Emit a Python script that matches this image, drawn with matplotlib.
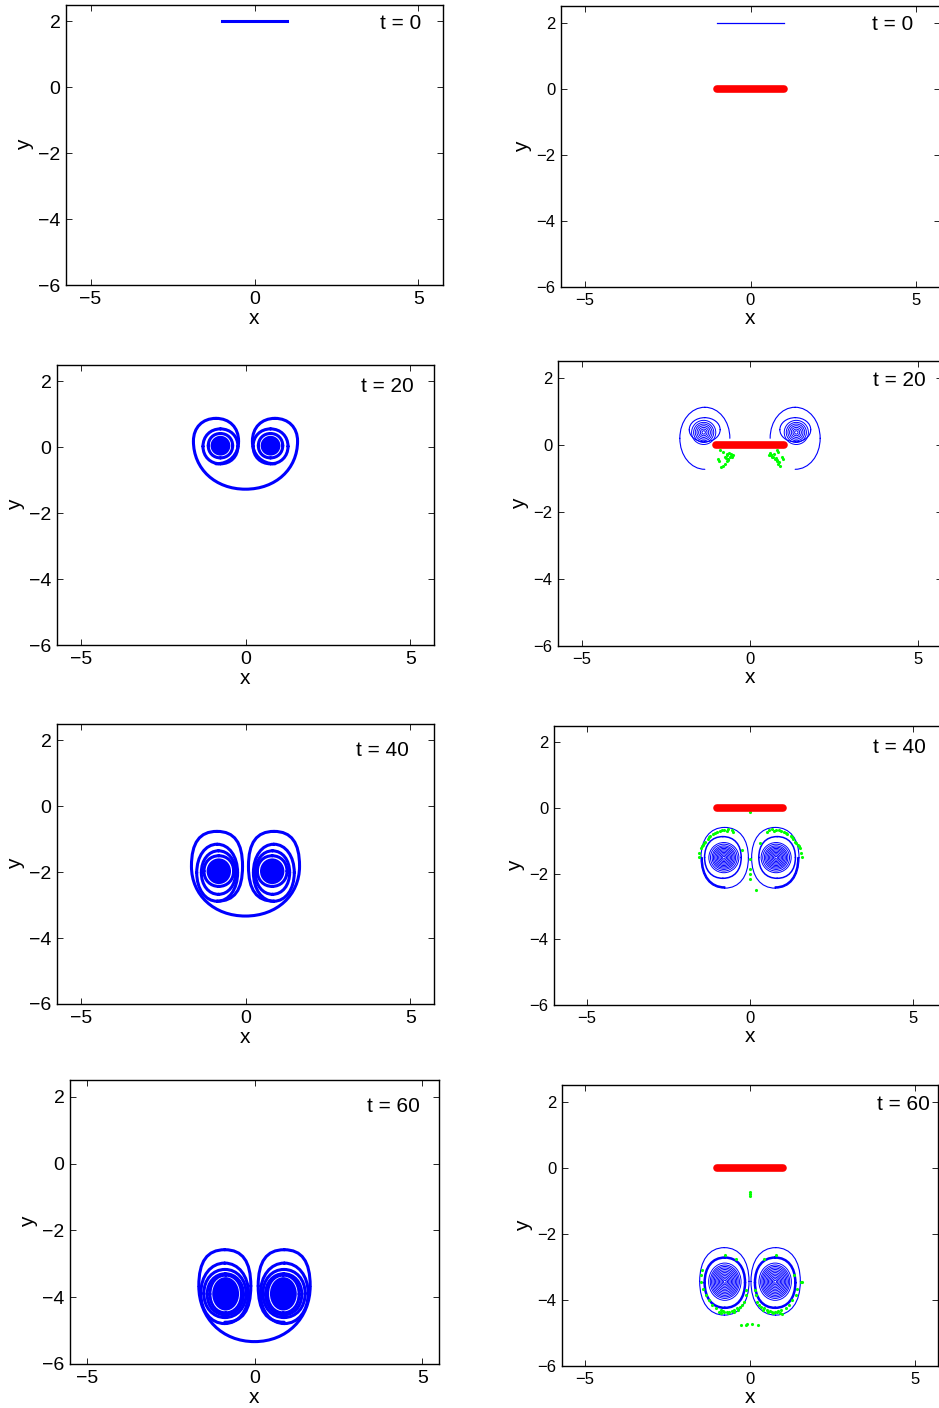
import numpy as np
import matplotlib.pyplot as plt
from matplotlib.patches import Ellipse, PathPatch
from matplotlib.path import Path

plt.rcParams['font.family'] = ['Liberation Sans', 'DejaVu Sans']

W, H = 939, 1408

# ---------------- data ----------------
times = [0, 20, 40, 60]
sheet0_x = [-1.0, 1.0]
sheet0_y = [2.0, 2.0]
plate_x = [-1.0, 1.0]
plate_y = [0.0, 0.0]

# Turns of the sheet round the LEFT vortex, as boxes (left, right, bottom, top);
# the right vortex is drawn as the mirror image.
# free sheet (left column)
free_lobe = {20: (-1.58, -0.21, -0.50, 0.88),
             40: (-1.64, -0.09, -2.88, -0.76),
             60: (-1.66, -0.11, -4.75, -2.58)}
free_env_bottom = {20: -1.27, 40: -3.33, 60: -5.33}
free_turns = {20: [(-1.29, -0.23, -0.50, 0.56),
                   (-1.13, -0.39, -0.32, 0.42)],
              40: [(-1.48, -0.24, -2.88, -1.15),
                   (-1.34, -0.30, -2.67, -1.35),
                   (-1.26, -0.36, -2.43, -1.50)],
              60: [(-1.60, -0.18, -4.79, -2.98),
                   (-1.51, -0.25, -4.61, -3.17),
                   (-1.41, -0.33, -4.53, -3.30),
                   (-1.33, -0.39, -4.47, -3.34)]}
free_core = {20: (-1.06, -0.46, -0.25, 0.35),
             40: (-1.18, -0.44, -2.36, -1.58),
             60: (-1.26, -0.46, -4.40, -3.40)}

# sheet shed from the plate (right column): (left, right, bottom, top, quarters, lw)
plate_turns = {20: [(-2.09, -0.60, -0.73, 1.12, 'EN NW WS', 0.8),
                    (-1.81, -0.89, 0.09, 0.81, 'EN NW WS SE', 0.8)],
               40: [(-1.50, -0.05, -2.44, -0.59, 'EN NW WS SE', 0.8),
                    (-1.47, -0.08, -2.41, -0.62, 'WS', 1.4),
                    (-1.39, -0.27, -2.14, -0.87, 'EN NW WS SE', 1.1)],
               60: [(-1.52, -0.03, -4.46, -2.42, 'EN NW WS SE', 0.8),
                    (-1.37, -0.15, -4.24, -2.72, 'EN NW WS SE', 1.8)]}
# tight rings round the cores (centre x, centre y, radii, height/width)
ring_cx = {20: -1.38, 40: -0.80, 60: -0.76}
ring_cy = {20: 0.37, 40: -1.51, 60: -3.45}
ring_r = {20: [0.05, 0.10, 0.15, 0.20, 0.25, 0.30, 0.36],
          40: [0.04, 0.08, 0.12, 0.16, 0.20, 0.24, 0.28, 0.32, 0.36, 0.41, 0.46],
          60: [0.04, 0.08, 0.12, 0.16, 0.20, 0.24, 0.28, 0.32, 0.36, 0.40, 0.44, 0.49]}
ring_aspect = {20: 1.0, 40: 1.0, 60: 1.15}

# green tracer points
green_x = {20: [-0.90, -0.80, -0.70, -0.63, -0.56, -0.50, -0.61, -0.65, -0.70, -0.75,
                -0.80, -0.85, -0.95, -0.92, -0.75, -0.68, -0.58, -0.53, -0.72, -0.66,
                0.59, 0.64, 0.69, 0.74, 0.79, 0.84, 0.89, 0.79, 0.84, 0.94,
                0.97, 0.57, 0.71, 0.62, 0.67, 0.76, 0.81, 0.86],
           40: [-1.57, -1.55, -1.51, -1.45, -1.37, -1.30, -1.22, -1.12, -1.02, -0.92,
                -0.79, -0.66, -0.56, -1.48, -1.40, -1.27, -1.07, -0.87, -0.71, -0.51,
                1.59, 1.57, 1.53, 1.47, 1.39, 1.32, 1.24, 1.14, 1.04, 0.94,
                0.81, 0.68, 0.58, 1.50, 1.42, 1.29, 1.09, 0.89, 0.73, 0.53,
                0.0, 0.0, 0.0, 0.0, 0.0, 0.18, -0.24, 0.30],
           60: [-0.94, -0.87, -0.79, -0.71, -0.63, -0.55, -0.47, -0.38, -0.30, -0.23,
                -0.18, -0.13, -0.12, -0.89, -0.81, -0.65, -0.49, -0.36, -1.04, -1.14,
                -1.24, -1.34, -1.41, -1.47, -1.49, -1.44, -0.77, -0.43,
                0.98, 0.91, 0.83, 0.75, 0.67, 0.59, 0.51, 0.42, 0.34, 0.27,
                0.22, 0.17, 0.14, 0.93, 0.85, 0.69, 0.53, 0.40, 1.08, 1.18,
                1.28, 1.38, 1.43, 1.53, 1.58, 1.33, 0.42, 0.78,
                -0.26, -0.13, -0.08, 0.07, 0.24, 0.0, 0.0, 0.0]}
green_y = {20: [-0.14, -0.21, -0.26, -0.24, -0.28, -0.31, -0.36, -0.43, -0.49, -0.56,
                -0.62, -0.66, -0.41, -0.48, -0.36, -0.31, -0.34, -0.35, -0.40, -0.45,
                -0.24, -0.31, -0.36, -0.43, -0.49, -0.56, -0.62, -0.14, -0.21, -0.36,
                -0.43, -0.31, -0.26, -0.30, -0.35, -0.40, -0.45, -0.52],
           40: [-1.48, -1.37, -1.22, -1.12, -1.02, -0.94, -0.86, -0.79, -0.73, -0.69,
                -0.66, -0.65, -0.67, -1.17, -1.07, -0.89, -0.76, -0.68, -0.71, -0.73,
                -1.48, -1.37, -1.22, -1.12, -1.02, -0.94, -0.86, -0.79, -0.73, -0.69,
                -0.66, -0.65, -0.67, -1.17, -1.07, -0.89, -0.76, -0.68, -0.71, -0.73,
                -0.13, -1.55, -1.85, -2.01, -2.15, -2.51, -1.29, -1.05],
           60: [-4.38, -4.41, -4.38, -4.36, -4.38, -4.34, -4.31, -4.26, -4.21, -4.16,
                -4.06, -3.86, -3.71, -4.31, -4.34, -4.41, -4.36, -4.31, -4.26, -4.16,
                -4.01, -3.86, -3.66, -3.45, -3.25, -3.10, -2.65, -2.75,
                -4.44, -4.41, -4.38, -4.36, -4.38, -4.34, -4.31, -4.26, -4.21, -4.16,
                -4.06, -3.86, -3.71, -4.31, -4.34, -4.41, -4.36, -4.31, -4.26, -4.16,
                -4.01, -3.86, -3.66, -3.45, -3.47, -3.25, -2.75, -2.65,
                -4.75, -4.75, -4.72, -4.72, -4.75, -0.73, -0.80, -0.85]}

# ---------------- layout (pixel boxes l, t, r, b and x half-range) ----------------
left_boxes = [(66, 5, 443, 285, 5.75), (57, 365, 434, 645, 5.72),
              (57, 724, 434, 1004, 5.72), (70, 1080, 439, 1364, 5.5)]
right_boxes = [(561, 6, 940, 287, 5.72), (558, 361, 942, 646, 5.72),
               (554, 726, 946, 1005, 6.0), (562, 1085, 938, 1366, 5.68)]
left_tpos = [(5.1, 1.95), (5.12, 1.85), (4.97, 1.7), (4.93, 1.7)]
right_tpos = [(4.92, 1.94), (5.24, 1.93), (5.39, 1.86), (5.44, 1.92)]
# roundness of the drawn turns (0.55 ~ ellipse, larger = squarer)
lobe_k = {20: 0.60, 40: 0.68, 60: 0.68}
plate_k = {20: 0.56, 40: 0.62, 60: 0.62}

BLUE = (0, 0, 1)
MIRROR = {'EN': 'NW', 'NW': 'EN', 'WS': 'SE', 'SE': 'WS'}
fig = plt.figure(figsize=(W / 100, H / 100), dpi=100)


def turn_path(box, quarters, k=0.62):
    # rounded loop through the four extreme points of the box, drawn as Bezier quarters
    l, r, b, t = box
    cx, cy, hw, hh = (l + r) / 2, (b + t) / 2, (r - l) / 2, (t - b) / 2
    segs = {'EN': [(cx + hw, cy), (cx + hw, cy + k * hh), (cx + k * hw, cy + hh), (cx, cy + hh)],
            'NW': [(cx, cy + hh), (cx - k * hw, cy + hh), (cx - hw, cy + k * hh), (cx - hw, cy)],
            'WS': [(cx - hw, cy), (cx - hw, cy - k * hh), (cx - k * hw, cy - hh), (cx, cy - hh)],
            'SE': [(cx, cy - hh), (cx + k * hw, cy - hh), (cx + hw, cy - k * hh), (cx + hw, cy)]}
    verts, codes = [], []
    for q in quarters:
        verts += segs[q]
        codes += [Path.MOVETO, Path.CURVE4, Path.CURVE4, Path.CURVE4]
    return Path(verts, codes)


def add_pair(ax, box, quarters, lw, k=0.62, filled=False):
    l, r, b, t = box
    qs = quarters.split()
    for bx, q in (((l, r, b, t), qs), ((-r, -l, b, t), [MIRROR[s] for s in qs])):
        if filled:
            ax.add_patch(Ellipse(((bx[0] + bx[1]) / 2, (bx[2] + bx[3]) / 2), bx[1] - bx[0],
                                 bx[3] - bx[2], facecolor=BLUE, edgecolor='none'))
        else:
            ax.add_patch(PathPatch(turn_path(bx, q, k), fill=False, edgecolor=BLUE,
                                   lw=lw, capstyle='round'))


def make_ax(box, tick_fs):
    l, t, r, b, xr = box
    ax = fig.add_axes([l / W, 1 - b / H, (r - l) / W, (b - t) / H])
    ax.set_xlim(-xr, xr)
    ax.set_ylim(-6, 2.5)
    ax.set_xticks([-5, 0, 5])
    ax.set_yticks([-6, -4, -2, 0, 2])
    ax.tick_params(direction='in', top=True, right=True, length=4, width=0.6,
                   labelsize=tick_fs, pad=4)
    for s in ax.spines.values():
        s.set_linewidth(1.0)
    ax.set_xlabel('x', fontsize=15, labelpad=1)
    ax.set_ylabel('y', fontsize=15, labelpad=3)
    return ax


for i, t in enumerate(times):
    # left column: free sheet
    ax = make_ax(left_boxes[i], 14)
    if t == 0:
        ax.plot(sheet0_x, sheet0_y, color=BLUE, lw=2.2)
    else:
        lobe = free_lobe[t]
        cy = (lobe[2] + lobe[3]) / 2
        env = (lobe[0], -lobe[0], free_env_bottom[t], 2 * cy - free_env_bottom[t])
        ax.add_patch(PathPatch(turn_path(env, ['WS', 'SE'], 0.58), fill=False,
                               edgecolor=BLUE, lw=2.2))
        add_pair(ax, lobe, 'SE EN NW', 2.2, k=lobe_k[t])
        for tb in free_turns[t]:
            add_pair(ax, tb, 'EN NW WS SE', 2.2, k=0.58)
        add_pair(ax, free_core[t], '', 0, filled=True)
    ax.text(*left_tpos[i], f't = {t}', ha='right', va='center', fontsize=15)

    # right column: sheet shed from the plate
    ax = make_ax(right_boxes[i], 12)
    if t == 0:
        ax.plot(sheet0_x, sheet0_y, color=BLUE, lw=0.9)
    else:
        for l, r, b, tp, qs, lw in plate_turns[t]:
            add_pair(ax, (l, r, b, tp), qs, lw, k=plate_k[t])
        for rr in ring_r[t]:
            for sx in (ring_cx[t], -ring_cx[t]):
                ax.add_patch(Ellipse((sx, ring_cy[t]), 2 * rr, 2 * rr * ring_aspect[t],
                                     fill=False, edgecolor=BLUE, lw=0.7))
        ax.plot(green_x[t], green_y[t], '.', color=(0, 1, 0), ms=2.5, zorder=4)
    ax.plot(plate_x, plate_y, color='r', lw=5.5, solid_capstyle='round', zorder=5)
    ax.text(*right_tpos[i], f't = {t}', ha='right', va='center', fontsize=15)

fig.savefig('out.png', dpi=100)
